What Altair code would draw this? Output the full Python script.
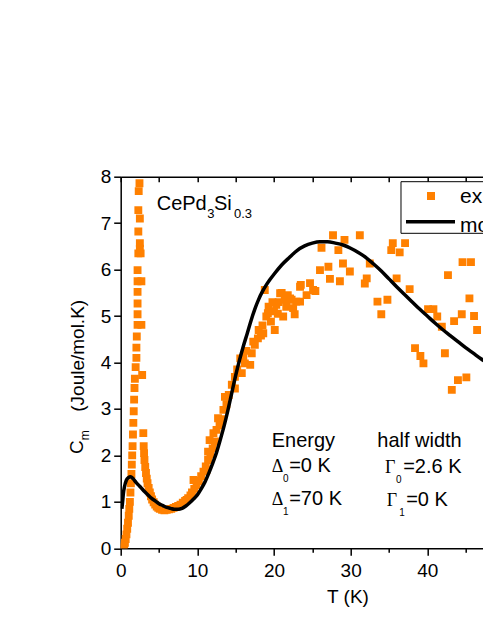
import altair as alt
import pandas as pd

# ---------------- data ----------------
exp_T = [0.35, 0.45, 0.55, 0.65, 0.75, 0.85, 0.95, 1.05, 1.12, 1.2, 1.27, 1.33, 1.4, 1.45, 1.5, 1.55,
         1.6, 1.65, 1.7, 1.75, 1.8, 1.85, 1.95, 2.05, 2.05, 2.1, 2.2, 2.2, 2.2, 2.2, 2.2, 2.2, 2.3,
         2.5, 2.3, 2.5, 2.3, 2.35, 2.45, 2.7, 2.7, 2.6, 2.5,
         2.8, 2.95, 3.0, 3.05, 3.1, 3.2, 3.3, 3.4, 3.5, 3.65, 3.8, 3.95, 4.1, 4.3, 4.5, 4.7, 4.9,
         5.1, 5.4, 5.7, 6.0, 6.3, 6.6, 6.9, 7.2, 7.5, 7.8, 8.1, 8.4, 8.6, 8.8, 9.1, 9.3, 9.5, 9.6,
         9.9, 10.2, 10.5, 10.8, 11.1, 11.2, 11.4, 11.4, 11.7, 11.6, 12.0, 12.1, 12.3, 12.5, 12.7,
         12.9, 13.2, 13.4, 13.6, 13.8, 14.1, 14.5, 14.9, 14.9, 15.2, 15.6, 15.8, 16.0, 16.2, 16.4,
         16.9, 17.1, 17.3, 17.5, 17.9, 18.0, 18.3, 18.6, 18.5, 18.8, 19.0, 19.2, 19.3, 19.6, 19.8,
         20.0, 20.1, 20.3, 20.5, 20.6, 20.8, 21.0, 21.2, 21.4, 21.6, 21.8, 22.1, 22.3, 22.5, 22.7,
         22.9, 23.4, 23.4, 23.5, 24.25, 24.7, 25.1, 25.4, 26.0, 26.2, 27.1, 27.3, 27.7, 28.4, 28.6,
         29.0, 29.2, 29.9, 31.2, 31.85, 32.1, 32.5, 33.5, 34.0, 34.8, 35.3, 35.5, 36.0, 36.4, 37.1,
         37.7, 38.4, 39.1, 39.5, 40.1, 40.8, 41.3, 41.9, 42.3, 42.7, 43.2, 43.5, 44.0, 44.5, 44.6,
         45.1, 45.5, 45.7, 46.1, 46.5, 47.9]
exp_C = [0.02, 0.06, 0.12, 0.2, 0.3, 0.42, 0.55, 0.7, 0.85, 1.0, 1.2, 1.4, 1.6, 1.8, 2.0, 2.2,
         2.45, 2.7, 2.95, 3.2, 3.45, 3.65, 3.9, 4.1, 4.32, 4.56, 4.81, 5.04, 5.27, 5.52, 5.75, 5.99, 6.35,
         6.57, 6.82, 7.1, 7.28, 7.69, 7.86, 4.81, 5.75, 6.35, 6.45,
         3.73, 2.48, 2.2, 2.05, 1.9, 1.75, 1.62, 1.5, 1.4, 1.3, 1.2, 1.12, 1.05, 0.99, 0.94, 0.9, 0.87,
         0.85, 0.83, 0.82, 0.83, 0.84, 0.85, 0.87, 0.89, 0.91, 0.94, 0.98, 1.02, 1.04, 1.08, 1.14, 1.2, 1.47, 1.28,
         1.36, 1.45, 1.55, 1.65, 1.76, 1.69, 1.9, 2.08, 2.02, 2.33, 2.15, 2.48, 2.3, 2.55, 2.8,
         2.65, 2.78, 2.98, 3.26, 3.1, 3.3, 3.52, 3.44, 3.69, 3.85, 4.09, 3.77, 4.1, 3.98, 4.25,
         3.95, 4.2, 4.45, 4.38, 4.52, 4.7, 4.58, 4.63, 4.8, 5.56, 4.99, 5.06, 5.2, 4.88, 5.3,
         5.1, 4.7, 5.24, 5.05, 5.3, 5.49, 5.5, 4.99, 5.35, 5.2, 5.45, 5.38, 5.35, 5.17, 5.04,
         5.31, 5.63, 5.31, 5.67, 5.45, 5.71, 5.56, 5.54, 5.99, 6.47, 6.06, 5.8, 6.74, 6.42, 5.75,
         6.13, 6.64, 5.96, 6.74, 5.7, 5.81, 6.13, 5.31, 5.04, 5.35, 6.42, 6.57, 5.81, 6.37, 6.57,
         5.58, 4.31, 4.14, 3.98, 5.15, 5.15, 4.99, 4.77, 4.2, 5.88, 3.41, 4.89, 3.62, 5.04, 6.16,
         3.68, 5.38, 6.16, 5.0, 4.7, 4.81]

model_T = [0.15, 0.25, 0.35, 0.5, 0.75, 1.0, 1.3, 1.6, 2.0, 2.5, 3.0, 3.5, 4.0, 4.5, 5.0, 5.5,
           6.0, 6.5, 7.0, 7.5, 8.0, 8.5, 9.0, 9.5, 10.0, 10.5, 11.0, 11.5, 12.0, 12.5, 13.0, 13.5,
           14.0, 14.5, 15.0, 15.5, 16.0, 16.5, 17.0, 17.5, 18.0, 18.5, 19.0, 19.5, 20.0, 21.0,
           22.0, 23.0, 24.0, 25.0, 26.0, 27.0, 28.0, 29.0, 30.0, 31.0, 32.0, 33.0, 34.0, 35.0,
           36.0, 37.0, 38.0, 39.0, 40.0, 41.0, 42.0, 43.0, 44.0, 45.0, 46.0, 47.0, 48.0, 49.0]
model_C = [0.85, 1.0, 1.18, 1.33, 1.47, 1.52, 1.54, 1.5, 1.42, 1.33, 1.24, 1.16, 1.08, 1.02, 0.96, 0.92,
           0.88, 0.86, 0.84, 0.84, 0.86, 0.91, 0.98, 1.06, 1.15, 1.28, 1.43, 1.62, 1.83, 2.06, 2.34, 2.64,
           2.98, 3.35, 3.72, 4.05, 4.35, 4.62, 4.9, 5.15, 5.36, 5.53, 5.67, 5.79, 5.9, 6.1,
           6.26, 6.41, 6.51, 6.57, 6.6, 6.6, 6.57, 6.53, 6.46, 6.37, 6.26, 6.12, 5.97, 5.8,
           5.63, 5.47, 5.31, 5.15, 5.0, 4.85, 4.71, 4.58, 4.45, 4.32, 4.2, 4.08, 3.97, 3.85]

x_tick_values = [0, 5, 10, 15, 20, 25, 30, 35, 40, 45]
y_tick_values = [0, 0.5, 1, 1.5, 2, 2.5, 3, 3.5, 4, 4.5, 5, 5.5, 6, 6.5, 7, 7.5, 8]
legend_labels = ["experiment", "model"]

df_exp = pd.DataFrame({"T": exp_T, "C": exp_C})
df_mod = pd.DataFrame({"T": model_T, "C": model_C})
one = pd.DataFrame({"k": [0]})

# ---------------- style ----------------
ORANGE = "#FF8000"
FONT = "Liberation Sans"
SERIF = "Liberation Serif"
W = 362.3
H = 371.6

xs = alt.Scale(domain=[0, 47.27], nice=False, zero=False)
ys = alt.Scale(domain=[0, 8], nice=False, zero=False)

axis_common = dict(domainColor="black", domainWidth=1.5, tickColor="black", tickWidth=1.5,
                   grid=False, labelFont=FONT, labelFontSize=19, labelColor="black",
                   labelOverlap=False, labelFlush=False, titleFont=FONT, titleFontSize=19,
                   titleFontWeight="normal", titleColor="black")

x_bottom = alt.Axis(orient="bottom", values=x_tick_values, format="d",
                    tickSize={"condition": {"test": "datum.value % 10 === 0", "value": 7}, "value": 4},
                    labelExpr="datum.value % 10 === 0 ? datum.label : ''",
                    labelPadding=6, title="T (K)", titleX=226.8, titleY=54.4,
                    titleBaseline="alphabetic", titleAlign="center", **axis_common)
y_left = alt.Axis(orient="left", values=y_tick_values, format="d",
                  tickSize={"condition": {"test": "datum.value % 1 === 0", "value": 7}, "value": 3.5},
                  labelExpr="datum.value % 1 === 0 ? datum.label : ''",
                  labelPadding=3, **axis_common)
x_top = alt.Axis(orient="bottom", offset=-H, values=x_tick_values, tickSize=5, labels=False,
                 title=None, domainColor="black", domainWidth=1.5, tickColor="black",
                 tickWidth=1.5, grid=False)

pts = alt.Chart(df_exp).mark_square(size=62, color=ORANGE, opacity=1, clip=True).encode(
    x=alt.X("T:Q", scale=xs, axis=x_bottom),
    y=alt.Y("C:Q", scale=ys, axis=y_left, title=None),
)

line = alt.Chart(df_mod).mark_line(color="black", strokeWidth=3.5, clip=True,
                                   interpolate="monotone").encode(
    x=alt.X("T:Q", scale=xs, axis=x_top),
    y=alt.Y("C:Q", scale=ys, axis=None),
)


def txt(s, x, y, size=20, font=FONT, angle=0):
    return alt.Chart(one).mark_text(text=s, align="left", baseline="alphabetic", fontSize=size,
                                    font=font, color="black", angle=angle).encode(
        x=alt.value(x), y=alt.value(y))


legend_box = alt.Chart(one).mark_rect(fill="white", stroke="black", strokeWidth=1).encode(
    x=alt.value(280.3), x2=alt.value(430), y=alt.value(5), y2=alt.value(56.6))
legend_sq = alt.Chart(one).mark_square(size=64, color=ORANGE, opacity=1).encode(
    x=alt.value(310.3), y=alt.value(19.3))
legend_ln = alt.Chart(one).mark_rule(color="black", strokeWidth=3.5).encode(
    x=alt.value(285.3), x2=alt.value(334.3), y=alt.value(45))

texts = [
    txt(legend_labels[0], 339.3, 26.3, 21),
    txt(legend_labels[1], 339.3, 55, 21),
    # compound name
    txt("CePd", 36, 33.3, 20), txt("3", 86.6, 41.6, 13),
    txt("Si", 93.3, 33.3, 20), txt("0.3", 113.3, 41.6, 13),
    # energy / width block
    txt("Energy", 151, 270, 20),
    txt("Δ", 151, 295, 18, SERIF), txt("0", 162.3, 305, 10), txt("=0 K", 168.5, 295, 20),
    txt("Δ", 151, 328.3, 18, SERIF), txt("1", 162.3, 338.3, 10), txt("=70 K", 168.5, 328.3, 20),
    txt("half width", 256.6, 270, 20),
    txt("Γ", 264.3, 296, 18, SERIF), txt("0", 275.3, 306, 10), txt("=2.6 K", 282.5, 296, 20),
    txt("Γ", 266, 329.3, 18, SERIF), txt("1", 278.5, 339.3, 10), txt("=0 K", 285.5, 329.3, 20),
    # y-axis title
    txt("C", -37.7, 277.3, 19, angle=270),
    txt("m", -31.7, 263.6, 12, angle=270),
    txt("(Joule/mol.K)", -36.7, 235, 19, angle=270),
]

chart = alt.layer(legend_box, pts, line, legend_sq, legend_ln, *texts).resolve_axis(
    x="independent", y="independent"
).properties(
    width=W, height=H,
    padding={"left": 112.7, "top": 168.7, "right": 0, "bottom": 60},
    autosize=alt.AutoSizeParams(type="none"),
    background="white",
).configure_view(strokeWidth=0)

chart.save("out.html", embed_options={"renderer": "svg", "actions": False})
